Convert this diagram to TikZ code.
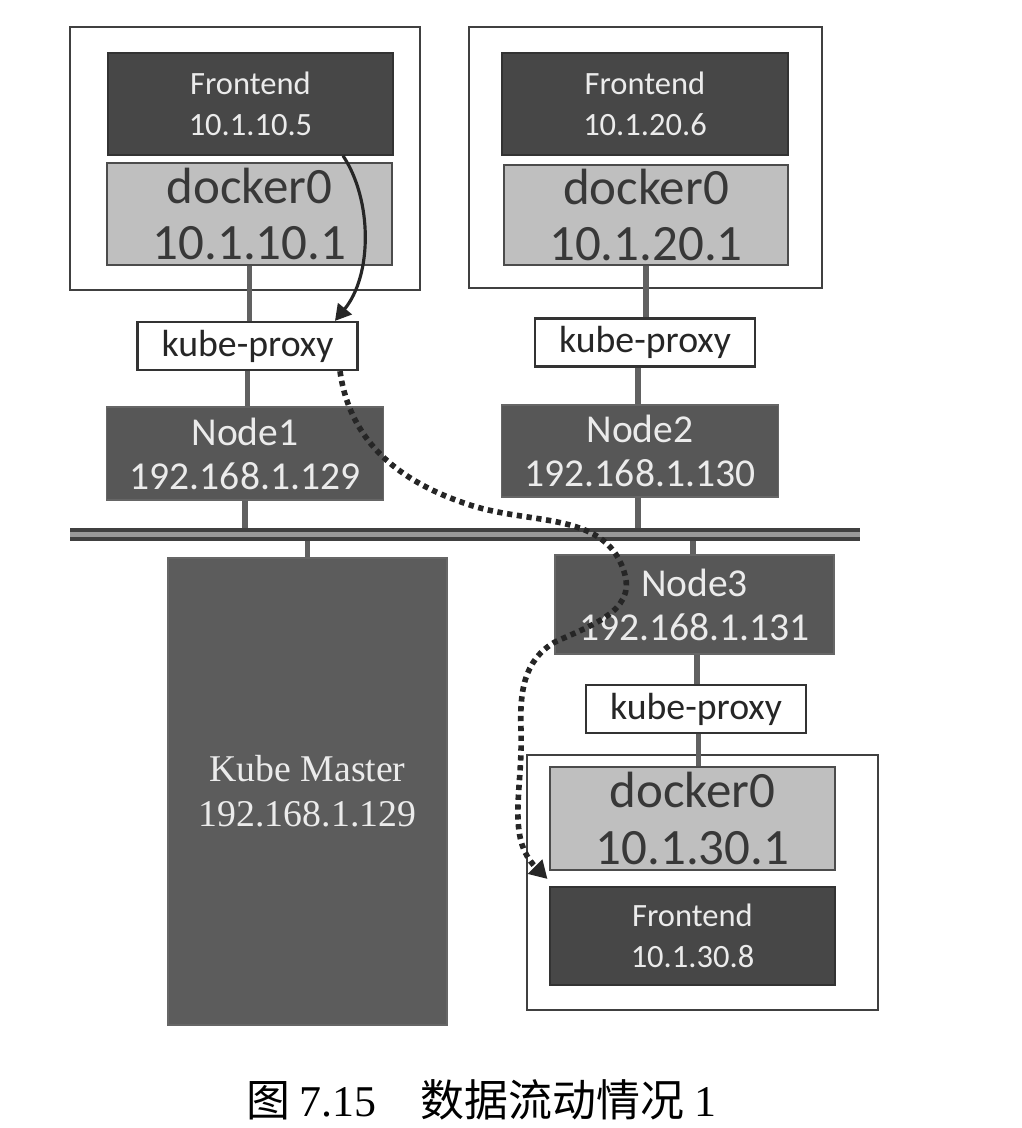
\documentclass[tikz,border=0pt]{standalone}
\usepackage{fontspec}
\setmainfont{Carlito}
\newfontfamily\masterfont{Liberation Serif}
\newfontfamily\cjk{Noto Sans CJK SC}
\usepackage{tikz}
\usetikzlibrary{calc,arrows.meta}

\begin{document}
\begin{tikzpicture}[
    podbox/.style={draw=black!75, line width=1.3pt, fill=white, inner sep=0pt},
    frontend/.style={draw=black!80, line width=0.8pt, fill=black!72, text=white!92!black, inner sep=0pt, align=center, font=\fontsize{18.5}{23}\selectfont},
    bridge/.style={draw=black!70, line width=0.8pt, fill=black!25, text=black!78, inner sep=0pt, align=center, font=\fontsize{29}{32}\selectfont},
    proxy/.style={draw=black!80, line width=1.3pt, fill=white, text=black!85, inner sep=0pt, minimum width=4.4cm, minimum height=0.96cm, font=\fontsize{21.5}{24}\selectfont},
    host/.style={draw=black!60, line width=0.8pt, fill=black!66, text=white!92!black, inner sep=0pt, align=center, minimum width=5.55cm, font=\fontsize{22.5}{25}\selectfont},
    link/.style={draw=black!62, line width=3.2pt},
    flow/.style={draw=black!85, line width=3.2pt, dash pattern=on 3pt off 2.6pt, -{Triangle[length=10pt,width=11pt]}}
  ]
  \useasboundingbox (0,0) rectangle (20.44,-22.56);

  \node[podbox, minimum width=7.00cm, minimum height=5.26cm] (box1) at (4.90,-3.17) {};
  \node[frontend, minimum width=5.70cm, minimum height=2.04cm] (fe1) at (5.01,-2.08) {Frontend\\10.1.10.5};
  \node[bridge, minimum width=5.70cm, minimum height=2.04cm] (dk1) at (4.99,-4.28) {docker0\\10.1.10.1};

  \node[podbox, minimum width=7.06cm, minimum height=5.22cm] (box2) at (12.91,-3.15) {};
  \node[frontend, minimum width=5.72cm, minimum height=2.04cm] (fe2) at (12.90,-2.08) {Frontend\\10.1.20.6};
  \node[bridge, minimum width=5.68cm, minimum height=2.00cm] (dk2) at (12.92,-4.30) {docker0\\10.1.20.1};

  \node[proxy] (kp1) at (4.95,-6.92) {kube-proxy};
  \node[proxy] (kp2) at (12.90,-6.85) {kube-proxy};

  \node[host, minimum height=1.86cm] (n1) at (4.90,-9.07) {Node1\\192.168.1.129};
  \node[host, minimum height=1.84cm] (n2) at (12.80,-9.02) {Node2\\192.168.1.130};

  \coordinate (busl) at (1.40,-10.69);
  \coordinate (busr) at (17.20,-10.69);

  \node[host, fill=black!64, minimum width=5.58cm, minimum height=9.34cm, font=\masterfont\fontsize{21.5}{25.5}\selectfont] (master) at (6.15,-15.83) {Kube Master\\192.168.1.129};
  \node[host, minimum width=5.58cm, minimum height=1.98cm] (n3) at (13.89,-12.09) {Node3\\192.168.1.131};
  \node[proxy] (kp3) at (13.92,-14.18) {kube-proxy};

  \node[podbox, minimum width=7.02cm, minimum height=5.10cm] (box3) at (14.05,-17.65) {};
  \node[bridge, minimum width=5.70cm, minimum height=2.06cm] (dk3) at (13.85,-16.37) {docker0\\10.1.30.1};
  \node[frontend, minimum width=5.70cm, minimum height=1.96cm] (fe3) at (13.85,-18.72) {Frontend\\10.1.30.8};

  \draw[link] (dk1.south) -- (dk1.south |- kp1.north);
  \draw[link] (kp1.south) -- (kp1.south |- n1.north);
  \draw[link] (n1.south) -- (n1.south |- busl);
  \draw[link] (dk2.south) -- (dk2.south |- kp2.north);
  \draw[link] ([xshift=-0.14cm]kp2.south) -- ([xshift=-0.14cm]kp2.south |- n2.north);
  \draw[link] ([xshift=-0.04cm]n2.south) -- ([xshift=-0.04cm]n2.south |- busl);
  \draw[link] (master.north) -- (master.north |- busl);
  \draw[link] ([xshift=-0.03cm]n3.north) -- ([xshift=-0.03cm]n3.north |- busl);
  \draw[link] ([xshift=0.05cm]n3.south) -- ([xshift=0.05cm]n3.south |- kp3.north);
  \draw[link] ([xshift=0.05cm]kp3.south) -- ([xshift=0.05cm]kp3.south |- dk3.north);
  \draw[black!75, line width=7pt] (busl) -- (busr);
  \draw[black!40, line width=3pt] (busl) -- (busr);

  \draw[black!85, line width=1.8pt, -{Triangle[length=9pt,width=10pt]}] ([xshift=1.85cm]fe1.south) .. controls (7.45,-4.0) and (7.45,-5.5) .. ([xshift=1.75cm]kp1.north);
  \draw[flow] ([xshift=1.85cm]kp1.south) to[out=-82,in=162] (9.4,-10.1) to[out=-18,in=105] (12.5,-11.5) to[out=-75,in=25] (11.1,-12.84) to[out=-150,in=92] (10.42,-14.6) to[out=-88,in=135] (10.95,-17.58);

  \node[font=\fontsize{25}{28}\selectfont] (caption) at (9.62,-22.0) {\cjk 图\ {\masterfont 7.15}\quad 数据流动情况\ {\masterfont 1}};
\end{tikzpicture}
\end{document}
